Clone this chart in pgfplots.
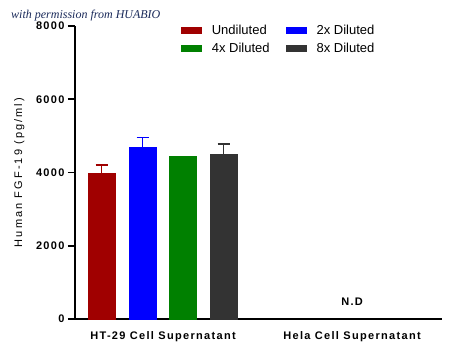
\documentclass[border=0pt]{standalone}
\usepackage{fontspec}
\setmainfont{Liberation Sans}
\newfontfamily\wmfont{Liberation Serif}
\newfontfamily\tickfont[LetterSpace=12]{Liberation Sans}
\newfontfamily\ylabfont[LetterSpace=19]{Liberation Sans}
\usepackage{pgfplots}
\pgfplotsset{compat=1.18}
\definecolor{cRed}{HTML}{A00000}
\definecolor{cBlue}{HTML}{0000FF}
\definecolor{cGreen}{HTML}{008000}
\definecolor{cDark}{HTML}{333333}
\definecolor{wm}{HTML}{1A2A5A}
\begin{document}
\begin{tikzpicture}
\useasboundingbox (0pt,0pt) rectangle (450pt,357pt);
\node[anchor=base west, text=wm, font=\wmfont\itshape\fontsize{12}{14}\selectfont, inner sep=0pt] at (11pt,338pt) {with permission from HUABIO};
\begin{axis}[
  at={(75pt,38pt)}, anchor=south west,
  scale only axis, width=367pt, height=293pt,
  xmin=-0.466, xmax=1.476, ymin=0, ymax=8000,
  axis x line*=bottom, axis y line*=left,
  axis line style={-, line width=2pt, black},
  ytick={0,2000,4000,6000,8000},
  xtick={0,1},
  xticklabels={HT-29 Cell Supernatant, Hela Cell Supernatant},
  tick align=outside,
  major tick length=7pt,
  ytick style={black, line width=1.6pt},
  xtick style={draw=none},
  scaled y ticks=false,
  /pgf/number format/assume math mode=true,
  /pgf/number format/set thousands separator={},
  ticklabel style={font=\tickfont\bfseries\fontsize{11}{13}\selectfont},
  yticklabel style={xshift=0pt},
  xticklabel style={yshift=-2pt},
  ylabel={Human FGF-19 (pg/ml)},
  ylabel style={at={(axis description cs:-0.152,0.5)}, anchor=center, font=\ylabfont\fontsize{11}{13}\selectfont},
  legend columns=2,
  legend cell align=left,
  legend style={draw=none, fill=none, at={(0.28,1.017)}, anchor=north west,
    font=\fontsize{13}{15}\selectfont,
    row sep=3pt,
    /tikz/every odd column/.append style={column sep=8.5pt},
    /tikz/every even column/.append style={column sep=14pt}},
  clip=false,
]
\addplot[ybar, bar width=0.143, bar shift=0pt, fill=cRed, draw=cRed,
  legend image code/.code={\fill[cRed] (0pt,-3pt) rectangle (20pt,3pt);},
  error bars/.cd, y dir=plus, y explicit,
  error bar style={cRed, line width=1.5pt},
  error mark options={rotate=90, mark size=6pt, line width=1.5pt, cRed}]
  coordinates {(-0.325,3980) +- (0,225)};
\addlegendentry{Undiluted}
\addplot[ybar, bar width=0.143, bar shift=0pt, fill=cBlue, draw=cBlue,
  legend image code/.code={\fill[cBlue] (0pt,-3pt) rectangle (20pt,3pt);},
  error bars/.cd, y dir=plus, y explicit,
  error bar style={cBlue, line width=1.5pt},
  error mark options={rotate=90, mark size=6pt, line width=1.5pt, cBlue}]
  coordinates {(-0.108,4688) +- (0,273)};
\addlegendentry{2x Diluted}
\addplot[ybar, bar width=0.143, bar shift=0pt, fill=cGreen, draw=cGreen,
  legend image code/.code={\fill[cGreen] (0pt,-3pt) rectangle (20pt,3pt);}]
  coordinates {(0.103,4450)};
\addlegendentry{4x Diluted}
\addplot[ybar, bar width=0.143, bar shift=0pt, fill=cDark, draw=cDark,
  legend image code/.code={\fill[cDark] (0pt,-3pt) rectangle (20pt,3pt);},
  error bars/.cd, y dir=plus, y explicit,
  error bar style={cDark, line width=1.5pt},
  error mark options={rotate=90, mark size=6pt, line width=1.5pt, cDark}]
  coordinates {(0.32,4505) +- (0,273)};
\addlegendentry{8x Diluted}
\node[font=\tickfont\bfseries\fontsize{11}{13}\selectfont] at (axis cs:1,464) {N.D};
\end{axis}
\end{tikzpicture}
\end{document}
